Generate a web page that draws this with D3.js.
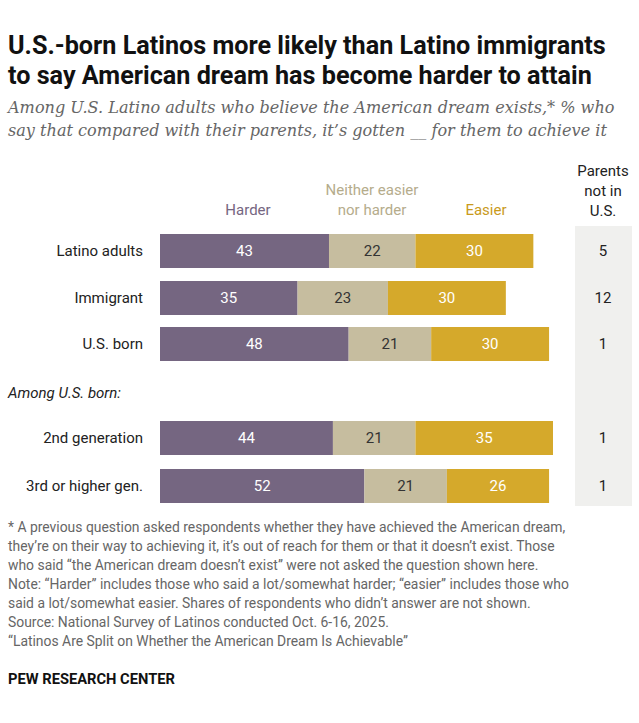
<!DOCTYPE html><html><head><meta charset="utf-8"><script src="https://cdn.jsdelivr.net/npm/d3@7"></script>
<style>body{margin:0;background:#fff}svg{font-family:Roboto,"Noto Sans",sans-serif}</style></head><body><svg id="c" width="639" height="723"></svg>
<script>
const categories=["Latino adults","Immigrant","U.S. born","2nd generation","3rd or higher gen."];
const harder=[43,35,48,44,52];
const neither=[22,23,21,21,21];
const easier=[30,30,30,35,26];
const parentsNotInUS=[5,12,1,1,1];
const svg=d3.select("#c");
const x=d3.scaleLinear().domain([0,100]).range([160,553]);
const yc=[251,298,344,438,486];
const colors=["#756681","#c6bd9f","#d5a92b"];
const tcol=["#fff","#333","#fff"];
svg.append("text").attr("x",8).attr("y",54).attr("font-size",25.2).attr("font-weight",700).attr("fill","#111").text("U.S.-born Latinos more likely than Latino immigrants");
svg.append("text").attr("x",8).attr("y",84).attr("font-size",25.2).attr("font-weight",700).attr("fill","#111").text("to say American dream has become harder to attain");
[["Among U.S. Latino adults who believe the American dream exists,* % who",113],["say that compared with their parents, it’s gotten __ for them to achieve it",136]].forEach(([t,y])=>svg.append("text").attr("x",8).attr("y",y).attr("font-style","italic").attr("fill","#666").attr("font-family","'DejaVu Serif',serif").attr("font-size",16.1).text(t));
svg.append("rect").attr("x",575).attr("y",226).attr("width",57).attr("height",280).attr("fill","#f0f0ee");
const hdr=(lines,cx,y0,col)=>lines.forEach((l,i)=>svg.append("text").attr("x",cx).attr("y",y0+i*20).attr("text-anchor","middle").attr("font-size",15).attr("fill",col).text(l));
hdr(["Harder"],248,215,"#756681");
hdr(["Neither easier","nor harder"],372,195,"#b5ac8c");
hdr(["Easier"],486,215,"#c99a1c");
hdr(["Parents","not in","U.S."],603,176,"#222");
svg.append("text").attr("x",8).attr("y",398).attr("font-size",15).attr("font-style","italic").attr("fill","#222").text("Among U.S. born:");
categories.forEach((c,i)=>{
  const y=yc[i];
  svg.append("text").attr("x",143).attr("y",y+5).attr("text-anchor","end").attr("font-size",15).attr("fill","#222").text(c);
  let s=0;
  [harder[i],neither[i],easier[i]].forEach((v,k)=>{
    svg.append("rect").attr("x",x(s)).attr("y",y-17).attr("width",x(s+v)-x(s)).attr("height",34).attr("fill",colors[k]);
    svg.append("text").attr("x",(x(s)+x(s+v))/2).attr("y",y+5).attr("text-anchor","middle").attr("font-size",15).attr("fill",tcol[k]).text(v);
    s+=v;
  });
  svg.append("text").attr("x",603).attr("y",y+5).attr("text-anchor","middle").attr("font-size",15).attr("fill","#222").text(parentsNotInUS[i]);
});
const notes=["* A previous question asked respondents whether they have achieved the American dream,","they’re on their way to achieving it, it’s out of reach for them or that it doesn’t exist. Those","who said “the American dream doesn’t exist” were not asked the question shown here.","Note: “Harder” includes those who said a lot/somewhat harder; “easier” includes those who","said a lot/somewhat easier. Shares of respondents who didn’t answer are not shown.","Source: National Survey of Latinos conducted Oct. 6-16, 2025.","“Latinos Are Split on Whether the American Dream Is Achievable”"];
notes.forEach((t,i)=>svg.append("text").attr("x",8).attr("y",532+i*19).attr("font-size",13.9).attr("fill","#666").text(t));
svg.append("text").attr("x",8).attr("y",684).attr("font-size",14.7).attr("font-weight",700).attr("fill","#111").text("PEW RESEARCH CENTER");
</script></body></html>
